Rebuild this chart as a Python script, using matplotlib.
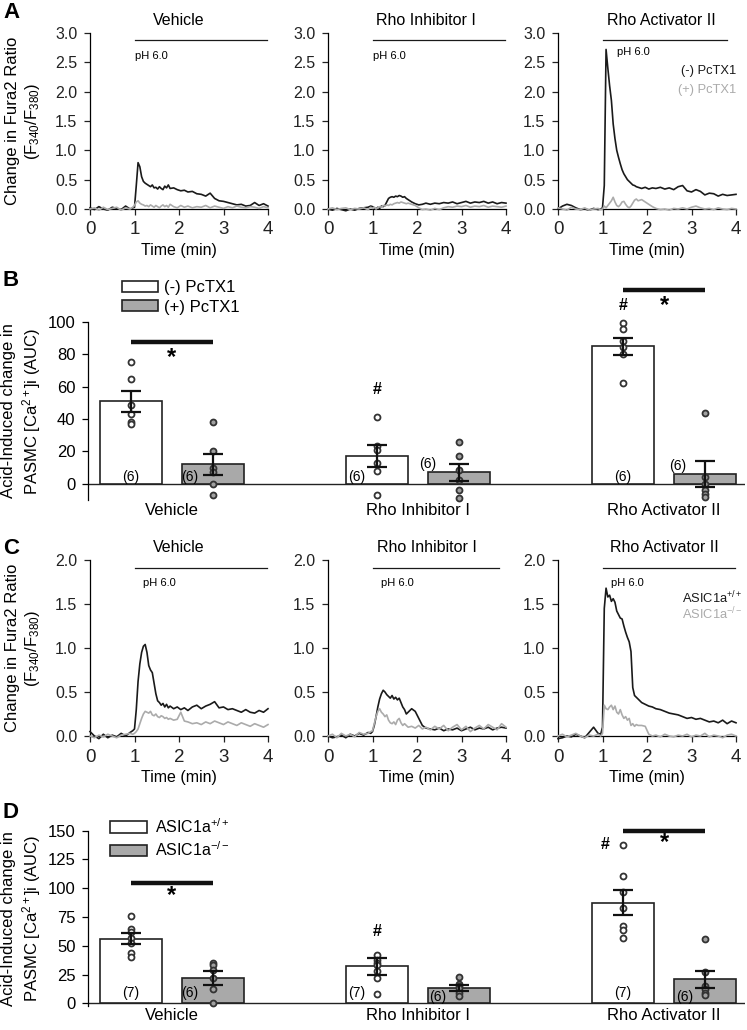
import numpy as np
import matplotlib
matplotlib.use('Agg')
import matplotlib.pyplot as plt
from matplotlib.patches import Patch

plt.rcParams['font.family'] = ['Liberation Sans', 'DejaVu Sans']
plt.rcParams['mathtext.fontset'] = 'custom'
plt.rcParams['mathtext.rm'] = 'Liberation Sans'
plt.rcParams['mathtext.it'] = 'Liberation Sans:italic'
plt.rcParams['mathtext.bf'] = 'Liberation Sans:bold'
plt.rcParams['axes.linewidth'] = 0.9

# ---- traces (change in Fura2 ratio), sampled in minutes ----
TIME = [0.0, 0.1, 0.2, 0.3, 0.4, 0.5, 0.6, 0.7, 0.8, 0.9, 0.96,
        1.0, 1.04, 1.08, 1.12, 1.16, 1.2, 1.24, 1.28, 1.32, 1.36, 1.4,
        1.44, 1.48, 1.52, 1.56, 1.6, 1.64, 1.68, 1.72, 1.76, 1.8,
        1.88, 1.96, 2.04, 2.12, 2.2,
        2.3, 2.4, 2.5, 2.6, 2.7, 2.8, 2.9, 3.0, 3.1, 3.2, 3.3, 3.4, 3.5,
        3.6, 3.7, 3.8, 3.9, 4.0]

# panel A : (-) PcTX1 / (+) PcTX1
A_VEH_NEG = [0.02, -0.01, 0.04, 0.00, -0.02, 0.03, 0.01, -0.01, 0.05, 0.00, 0.02,
             0.03, 0.40, 0.79, 0.72, 0.55, 0.47, 0.44, 0.42, 0.40, 0.38, 0.41,
             0.36, 0.37, 0.34, 0.38, 0.35, 0.33, 0.39, 0.36, 0.41, 0.35,
             0.36, 0.33, 0.31, 0.32, 0.29,
             0.30, 0.26, 0.25, 0.22, 0.27, 0.18, 0.14, 0.13, 0.11, 0.09, 0.07, 0.08, 0.05,
             0.06, 0.11, 0.06, 0.09, 0.05]
A_VEH_POS = [0.00, 0.02, -0.02, 0.03, -0.01, 0.01, 0.03, -0.02, 0.02, 0.00, 0.03,
             0.06, 0.12, 0.14, 0.10, 0.08, 0.07, 0.05, 0.06, 0.04, 0.07, 0.05,
             0.03, 0.06, 0.04, 0.02, 0.05, 0.07, 0.04, 0.06, 0.03, 0.08,
             0.04, 0.02, 0.06, 0.03, 0.05,
             0.02, 0.04, 0.03, 0.06, 0.02, 0.05, 0.03, 0.01, 0.04, 0.02, 0.05, 0.03, 0.02,
             0.04, 0.03, 0.01, 0.04, 0.02]
A_INH_NEG = [0.00, -0.02, 0.01, -0.01, -0.03, 0.00, -0.02, 0.01, 0.02, 0.03, 0.05,
             0.04, 0.02, 0.00, 0.03, 0.01, 0.05, 0.04, 0.06, 0.12, 0.18, 0.20,
             0.21, 0.20, 0.22, 0.21, 0.23, 0.22, 0.20, 0.21, 0.18, 0.16,
             0.12, 0.09, 0.07, 0.08, 0.10,
             0.08, 0.10, 0.09, 0.11, 0.10, 0.12, 0.09, 0.11, 0.13, 0.10, 0.12, 0.11, 0.13,
             0.10, 0.12, 0.09, 0.11, 0.10]
A_INH_POS = [0.00, 0.02, -0.01, 0.01, 0.02, -0.01, 0.01, 0.00, 0.02, -0.01, 0.03,
             0.01, 0.03, 0.00, 0.02, 0.04, 0.03, 0.06, 0.05, 0.07, 0.06, 0.08,
             0.07, 0.09, 0.10, 0.11, 0.10, 0.12, 0.11, 0.10, 0.09, 0.10,
             0.08, 0.06, 0.02, -0.01, 0.00,
             -0.02, 0.01, -0.01, 0.02, 0.04, 0.03, 0.05, 0.04, 0.06, 0.03, 0.05, 0.04, 0.06,
             0.03, 0.05, 0.04, 0.03, 0.05]
A_ACT_NEG = [0.00, 0.05, 0.08, 0.06, 0.02, -0.01, 0.00, -0.02, 0.01, -0.01, 0.00,
             0.02, 0.40, 2.72, 2.40, 2.10, 1.85, 1.45, 1.20, 1.00, 0.88, 0.77,
             0.67, 0.60, 0.55, 0.50, 0.47, 0.44, 0.41, 0.40, 0.38, 0.37,
             0.35, 0.37, 0.34, 0.36, 0.35,
             0.37, 0.34, 0.36, 0.33, 0.38, 0.40, 0.31, 0.29, 0.33, 0.30, 0.24, 0.27, 0.26,
             0.22, 0.25, 0.23, 0.24, 0.25]
A_ACT_POS = [0.02, 0.00, -0.02, 0.03, 0.00, -0.01, 0.02, -0.02, 0.00, 0.01, -0.01,
             0.00, 0.05, 0.02, 0.06, 0.10, 0.14, 0.20, 0.12, 0.06, 0.04, 0.07,
             0.12, 0.13, 0.08, 0.04, 0.02, 0.05, 0.10, 0.15, 0.17, 0.14,
             0.16, 0.12, 0.08, 0.04, 0.01,
             -0.01, 0.00, -0.02, 0.01, 0.00, 0.02, 0.00, 0.03, 0.05, 0.02, 0.00, 0.01, -0.01,
             0.02, 0.00, -0.01, 0.01, 0.00]

# panel C : ASIC1a+/+ / ASIC1a-/-
C_VEH_WT = [0.05, 0.00, -0.03, 0.02, -0.02, 0.01, -0.01, 0.03, 0.00, 0.04, 0.06,
            0.08, 0.30, 0.62, 0.82, 0.95, 1.02, 1.04, 0.95, 0.80, 0.75, 0.72,
            0.60, 0.48, 0.40, 0.38, 0.35, 0.37, 0.33, 0.36, 0.32, 0.34,
            0.31, 0.33, 0.30, 0.32, 0.29,
            0.33, 0.35, 0.31, 0.34, 0.36, 0.39, 0.32, 0.33, 0.30, 0.31, 0.29, 0.27, 0.30,
            0.27, 0.26, 0.29, 0.27, 0.31]
C_VEH_KO = [0.00, -0.02, 0.01, -0.01, 0.02, 0.00, -0.02, 0.01, 0.02, 0.03, 0.02,
            0.03, 0.05, 0.08, 0.14, 0.20, 0.25, 0.28, 0.27, 0.26, 0.28, 0.24,
            0.23, 0.25, 0.22, 0.21, 0.23, 0.22, 0.20, 0.21, 0.19, 0.20,
            0.18, 0.19, 0.27, 0.17, 0.16,
            0.14, 0.15, 0.13, 0.16, 0.14, 0.17, 0.15, 0.13, 0.16, 0.14, 0.12, 0.15, 0.13,
            0.11, 0.14, 0.12, 0.10, 0.13]
C_INH_WT = [0.00, -0.02, -0.01, 0.01, -0.02, 0.02, 0.00, 0.03, 0.01, 0.04, 0.03,
            0.05, 0.12, 0.22, 0.33, 0.42, 0.48, 0.52, 0.50, 0.47, 0.45, 0.43,
            0.46, 0.42, 0.44, 0.41, 0.43, 0.38, 0.33, 0.30, 0.25, 0.27,
            0.31, 0.28, 0.20, 0.12, 0.09,
            0.08, 0.07, 0.09, 0.06, 0.08, 0.07, 0.09, 0.06, 0.08, 0.10, 0.07, 0.09, 0.08,
            0.10, 0.07, 0.09, 0.10, 0.09]
C_INH_KO = [0.00, 0.02, -0.02, 0.03, 0.00, 0.02, -0.01, 0.04, 0.02, 0.03, 0.05,
            0.06, 0.14, 0.22, 0.28, 0.31, 0.27, 0.25, 0.22, 0.24, 0.18, 0.15,
            0.14, 0.16, 0.13, 0.18, 0.20, 0.15, 0.12, 0.14, 0.12, 0.10,
            0.11, 0.09, 0.12, 0.08, 0.10,
            0.07, 0.11, 0.08, 0.12, 0.06, 0.10, 0.13, 0.07, 0.11, 0.05, 0.09, 0.12, 0.08,
            0.13, 0.10, 0.07, 0.14, 0.10]
C_ACT_WT = [-0.03, -0.02, 0.00, -0.01, 0.02, 0.00, -0.02, 0.04, 0.10, 0.03, 0.02,
            0.10, 1.45, 1.68, 1.58, 1.60, 1.53, 1.56, 1.52, 1.42, 1.38, 1.34,
            1.33, 1.25, 1.18, 1.12, 1.07, 0.96, 0.55, 0.46, 0.44, 0.42,
            0.38, 0.36, 0.34, 0.33, 0.31,
            0.30, 0.28, 0.26, 0.25, 0.24, 0.22, 0.20, 0.21, 0.19, 0.20, 0.18, 0.16, 0.17,
            0.15, 0.18, 0.14, 0.17, 0.15]
C_ACT_KO = [0.00, 0.02, -0.01, 0.01, 0.03, 0.00, -0.02, 0.01, 0.00, 0.02, 0.00,
            0.03, 0.35, 0.31, 0.30, 0.33, 0.35, 0.30, 0.34, 0.27, 0.25, 0.30,
            0.24, 0.20, 0.22, 0.18, 0.20, 0.12, 0.14, 0.11, 0.13, 0.12,
            0.12, 0.11, 0.02, 0.00, 0.01,
            -0.01, 0.02, 0.00, -0.01, 0.01, 0.00, 0.02, -0.01, 0.01, 0.00, 0.03, -0.01, 0.01,
            0.00, -0.02, 0.01, 0.02, 0.00]

TREATMENTS = ['Vehicle', 'Rho Inhibitor I', 'Rho Activator II']

# ---- panel B : AUC, (-) PcTX1 vs (+) PcTX1 ----
B_NEG = [51, 17, 85]
B_NEG_SEM = [6.5, 6.7, 5.4]
B_POS = [12, 7, 6]
B_POS_SEM = [6.6, 5.5, 8.0]
B_NEG_PTS = [[75, 65, 49, 43, 38, 37],
             [41.5, 23.5, 21, 13, 8, -7],
             [99.5, 95.5, 88, 84.5, 80.5, 62.5]]
B_POS_PTS = [[38.5, 20.5, 9.5, 7, 0, -7],
             [26, 17.5, 8.5, 2.5, -4, -9],
             [44, 4, 0, -4, -6, -8]]
B_N = ['(6)', '(6)', '(6)']

# ---- panel D : AUC, ASIC1a+/+ vs ASIC1a-/- ----
D_WT = [56, 32, 87.5]
D_WT_SEM = [4.7, 7, 11]
D_KO = [22, 13, 21]
D_KO_SEM = [6, 2.5, 7.5]
D_WT_PTS = [[76, 65, 62, 56.5, 52, 44, 40.5],
            [42, 38, 35, 33, 28, 22, 8],
            [138, 111, 97, 83, 67, 64, 56.5]]
D_KO_PTS = [[35, 33, 29, 22, 12, 0],
            [23, 17, 15, 13, 9, 6],
            [56, 27, 15, 12, 9, 7]]
D_N_WT = ['(7)', '(7)', '(7)']
D_N_KO = ['(6)', '(6)', '(6)']

BLACK = '#1a1a1a'
GREY = '#ababab'
BAR_GREY = '#a9a9a9'
OFF = 1 / 6
W = 0.25

W_PX, H_PX = 747, 1030


def rect(left, top, right, bottom):
    return [left / W_PX, 1 - bottom / H_PX, (right - left) / W_PX, (bottom - top) / H_PX]


def trace_axes(ax, black, grey, ymax, first):
    ax.plot(TIME, black, color=BLACK, lw=1.2, clip_on=False, zorder=3)
    ax.plot(TIME, grey, color=GREY, lw=1.2, clip_on=False, zorder=4)
    ax.set_xlim(0, 4)
    ax.set_ylim(0, ymax)
    ax.set_xticks([0, 1, 2, 3, 4])
    ax.set_yticks(np.arange(0, ymax + 0.01, 0.5))
    ax.yaxis.set_major_formatter('{x:.1f}')
    ax.spines[['top', 'right']].set_visible(False)
    ax.tick_params(direction='out', length=4, width=0.9, colors='#222')
    ax.tick_params(axis='y', labelsize=11.5, pad=5)
    ax.tick_params(axis='x', labelsize=13.5, pad=5)
    ax.set_xlabel('Time (min)', fontsize=11.5, labelpad=3)
    if first:
        ax.set_ylabel('Change in Fura2 Ratio\n(F$_{340}$/F$_{380}$)', fontsize=12)
        ax.yaxis.set_label_coords(-0.27, 0.5)


def bar_axes(ax, neg, neg_sem, pos, pos_sem, neg_pts, pos_pts, ymin, ymax, step):
    x = np.arange(3)
    ax.bar(x - OFF, neg, W, color='white', edgecolor='#222', lw=1.2, zorder=2)
    ax.bar(x + OFF, pos, W, color=BAR_GREY, edgecolor='#222', lw=1.2, zorder=2)
    for i in range(3):
        ax.plot([x[i] - OFF] * len(neg_pts[i]), neg_pts[i], 'o', ms=4.3, mfc='white',
                mec='#333', mew=1.3, zorder=3, clip_on=False)
        ax.plot([x[i] + OFF] * len(pos_pts[i]), pos_pts[i], 'o', ms=4.3, mfc='#a0a0a0',
                mec='#333', mew=1.3, zorder=3, clip_on=False)
    ax.errorbar(x - OFF, neg, yerr=neg_sem, fmt='none', ecolor='#111', elinewidth=1.6,
                capsize=7, capthick=1.6, zorder=4, clip_on=False)
    ax.errorbar(x + OFF, pos, yerr=pos_sem, fmt='none', ecolor='#111', elinewidth=1.6,
                capsize=7, capthick=1.6, zorder=4, clip_on=False)
    ax.axhline(0, color='#222', lw=1.0, zorder=1)
    ax.set_xlim(-0.341, 2.329)
    ax.set_ylim(ymin, ymax)
    ax.set_yticks(np.arange(0, ymax + 1, step))
    ax.spines[['top', 'right', 'bottom']].set_visible(False)
    ax.spines['left'].set_bounds(ymin, ymax)
    ax.set_xticks(x)
    ax.set_xticklabels(TREATMENTS, fontsize=12)
    ax.tick_params(axis='x', length=0, pad=2)
    ax.tick_params(axis='y', direction='out', length=4, width=0.9, labelsize=12, pad=5)
    ax.set_ylabel('Acid-Induced change in\nPASMC [Ca$^{2+}$]i (AUC)', fontsize=12)
    ax.yaxis.set_label_coords(-0.069, 0.5)


def sig_bar(ax, x0, x1, y):
    ax.plot([x0, x1], [y, y], color='#111', lw=3.2, solid_capstyle='butt', clip_on=False, zorder=5)


fig = plt.figure(figsize=(W_PX / 100, H_PX / 100), dpi=100)

lefts = [90, 328, 558]
a_traces = [(A_VEH_NEG, A_VEH_POS), (A_INH_NEG, A_INH_POS), (A_ACT_NEG, A_ACT_POS)]
c_traces = [(C_VEH_WT, C_VEH_KO), (C_INH_WT, C_INH_KO), (C_ACT_WT, C_ACT_KO)]

# A
a_title_x = [2.0, 2.2, 2.33]
a_ph_end = [3.98, 3.97, 3.8]
a_ph_txt = [(1.02, 2.61), (1.01, 2.61), (1.32, 2.68)]
for i in range(3):
    ax = fig.add_axes(rect(lefts[i], 33, lefts[i] + 178, 209))
    trace_axes(ax, a_traces[i][0], a_traces[i][1], 3.0, i == 0)
    ax.text(a_title_x[i], 3.22, TREATMENTS[i], ha='center', va='center', fontsize=11.5, clip_on=False)
    ax.plot([1.0, a_ph_end[i]], [2.88, 2.88], color=BLACK, lw=0.9, clip_on=False)
    ax.text(a_ph_txt[i][0], a_ph_txt[i][1], 'pH 6.0', fontsize=8, ha='left', va='center')
    if i == 2:
        ax.text(4.0, 2.35, '(-) PcTX1', color=BLACK, fontsize=9.3, ha='right', va='center')
        ax.text(4.0, 2.03, '(+) PcTX1', color=GREY, fontsize=9.3, ha='right', va='center')

# C
c_title_x = [2.0, 2.23, 2.39]
c_ph_end = [3.98, 3.85, 3.98]
for i in range(3):
    ax = fig.add_axes(rect(lefts[i], 560, lefts[i] + 178, 736))
    trace_axes(ax, c_traces[i][0], c_traces[i][1], 2.0, i == 0)
    ax.text(c_title_x[i], 2.14, TREATMENTS[i], ha='center', va='center', fontsize=11.5, clip_on=False)
    ax.plot([1.0, c_ph_end[i]], [1.91, 1.91], color=BLACK, lw=0.9, clip_on=False)
    ax.text(1.2, 1.74, 'pH 6.0', fontsize=8, ha='left', va='center')
    if i == 2:
        ax.text(4.15, 1.57, 'ASIC1a$^{+/+}$', color=BLACK, fontsize=9.3, ha='right', va='center')
        ax.text(4.15, 1.39, 'ASIC1a$^{-/-}$', color=GREY, fontsize=9.3, ha='right', va='center')

# B
axb = fig.add_axes(rect(88, 322, 745, 500))
bar_axes(axb, B_NEG, B_NEG_SEM, B_POS, B_POS_SEM, B_NEG_PTS, B_POS_PTS, -10, 100, 20)
sig_bar(axb, -OFF, OFF, 87.5)
axb.text(0, 78, '*', fontsize=17, fontweight='bold', ha='center', va='center')
sig_bar(axb, 2 - OFF, 2 + OFF, 120)
axb.text(2, 110, '*', fontsize=17, fontweight='bold', ha='center', va='center')
axb.text(1 - OFF, 58, '#', fontsize=11.5, fontweight='bold', ha='center', va='center')
axb.text(2 - OFF, 110, '#', fontsize=11.5, fontweight='bold', ha='center', va='center')
b_n_pos = [(-OFF, 4.5), (0.073, 4.5), (0.752, 4.5), (1.04, 12), (2 - OFF, 4.5), (2.057, 11.3)]
b_n_txt = [B_N[0], B_N[0], B_N[1], B_N[1], B_N[2], B_N[2]]
for (px, py), t in zip(b_n_pos, b_n_txt):
    axb.text(px, py, t, fontsize=10, ha='center', va='center', zorder=6)
axb.legend(handles=[Patch(facecolor='white', edgecolor='#222', lw=1.2),
                    Patch(facecolor=BAR_GREY, edgecolor='#222', lw=1.2)],
           labels=['(-) PcTX1', '(+) PcTX1'], loc='upper left',
           bbox_to_anchor=(122 / W_PX, 1 - 280 / H_PX), bbox_transform=fig.transFigure,
           frameon=False, fontsize=12, handlelength=2.15, handleheight=0.66,
           handletextpad=0.4, labelspacing=0.28, borderpad=0, borderaxespad=0)

# D
axd = fig.add_axes(rect(88, 830.7, 745, 1005.6))
bar_axes(axd, D_WT, D_WT_SEM, D_KO, D_KO_SEM, D_WT_PTS, D_KO_PTS, -2, 150, 25)
sig_bar(axd, -OFF, OFF, 104.3)
axd.text(0, 94, '*', fontsize=17, fontweight='bold', ha='center', va='center')
sig_bar(axd, 2 - OFF, 2 + OFF, 150)
axd.text(2, 140, '*', fontsize=17, fontweight='bold', ha='center', va='center')
axd.text(1 - OFF, 62, '#', fontsize=11.5, fontweight='bold', ha='center', va='center')
axd.text(1.76, 138, '#', fontsize=11.5, fontweight='bold', ha='center', va='center')
d_n_pos = [(-OFF, 9), (0.073, 9), (0.752, 9), (1.08, 5.5), (2 - OFF, 9), (2.085, 5.5)]
d_n_txt = [D_N_WT[0], D_N_KO[0], D_N_WT[1], D_N_KO[1], D_N_WT[2], D_N_KO[2]]
for (px, py), t in zip(d_n_pos, d_n_txt):
    axd.text(px, py, t, fontsize=10, ha='center', va='center', zorder=6)
axd.legend(handles=[Patch(facecolor='white', edgecolor='#222', lw=1.2),
                    Patch(facecolor=BAR_GREY, edgecolor='#222', lw=1.2)],
           labels=['ASIC1a$^{+/+}$', 'ASIC1a$^{-/-}$'], loc='upper left',
           bbox_to_anchor=(110 / W_PX, 1 - 817 / H_PX), bbox_transform=fig.transFigure,
           frameon=False, fontsize=11.5, handlelength=2.3, handleheight=0.72,
           handletextpad=0.5, labelspacing=0.3, borderpad=0, borderaxespad=0)

# panel letters
for letter, y in [('A', 12), ('B', 280), ('C', 548), ('D', 813)]:
    fig.text(3 / W_PX, 1 - y / H_PX, letter, fontsize=16, fontweight='bold', ha='left', va='center')

fig.savefig('out.png', dpi=100)
